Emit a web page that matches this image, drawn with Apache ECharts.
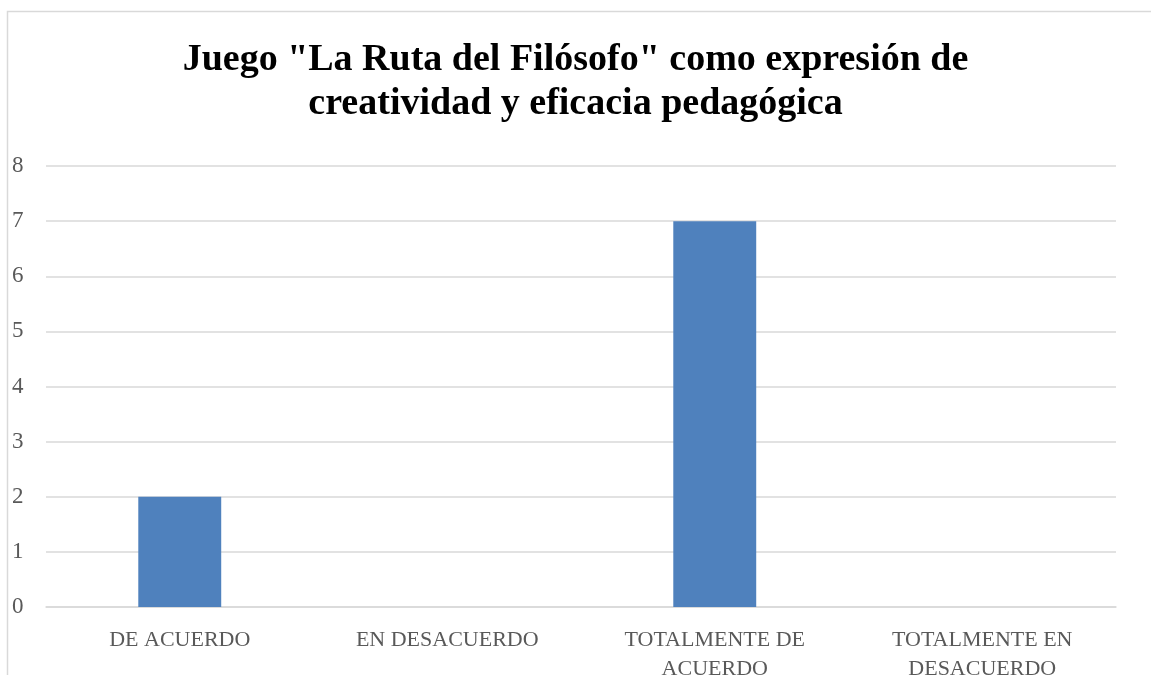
<!DOCTYPE html>
<html>
<head>
<meta charset="utf-8">
<script src="https://cdn.jsdelivr.net/npm/echarts@6/dist/echarts.min.js"></script>
<style>
  html, body { margin: 0; padding: 0; background: #fff; overflow: hidden; }
  #chart { width: 1151px; height: 675px; }
</style>
</head>
<body>
<div id="chart"></div>
<script>
// Survey answers and how many respondents chose each
const categories = ['DE ACUERDO', 'EN DESACUERDO', 'TOTALMENTE DE ACUERDO', 'TOTALMENTE EN DESACUERDO'];
const counts = [2, 0, 7, 0];
const yTicks = [0, 1, 2, 3, 4, 5, 6, 7, 8];

const titleText = 'Juego "La Ruta del Filósofo" como expresión de\ncreatividad y eficacia pedagógica';

const SERIF = '"Liberation Serif", "DejaVu Serif", serif';

// Put long labels on two lines after the second word
function wrapLabel(s) {
  const w = s.split(' ');
  if (w.length > 2) return w.slice(0, 2).join(' ') + '\n' + w.slice(2).join(' ');
  return s;
}

const chart = echarts.init(document.getElementById('chart'), null, { renderer: 'canvas' });
chart.setOption({
  backgroundColor: '#ffffff',
  animation: false,
  graphic: [{
    type: 'rect',
    shape: { x: 7.5, y: 11.5, width: 1200, height: 700 },
    style: { fill: 'none', stroke: '#d9d9d9', lineWidth: 1.5 },
    silent: true
  }],
  title: {
    text: titleText,
    left: 'center',
    top: 33,
    textStyle: {
      fontFamily: SERIF,
      fontWeight: 'bold',
      fontSize: 38,
      lineHeight: 44,
      color: '#000000'
    }
  },
  // the two-line category labels run to the bottom edge, so keep the grid fixed
  grid: { left: 46, top: 166, width: 1070, height: 441, containLabel: false, outerBoundsMode: 'none' },
  xAxis: {
    type: 'category',
    data: categories,
    axisTick: { show: false },
    axisLine: { lineStyle: { color: '#d9d9d9', width: 1.5 } },
    axisLabel: {
      interval: 0,
      margin: 19,
      color: '#595959',
      fontFamily: SERIF,
      fontSize: 22,
      lineHeight: 29,
      formatter: wrapLabel
    }
  },
  yAxis: {
    type: 'value',
    min: yTicks[0],
    max: yTicks[yTicks.length - 1],
    interval: 1,
    axisLine: { show: false },
    axisTick: { show: false },
    splitLine: { lineStyle: { color: '#d9d9d9', width: 1.5 } },
    axisLabel: {
      margin: 34,
      align: 'left',
      color: '#595959',
      fontFamily: SERIF,
      fontSize: 23,
      formatter: function (v) { return String(v); }
    }
  },
  series: [{
    type: 'bar',
    data: counts,
    barCategoryGap: '69%',
    itemStyle: { color: '#4f81bd' }
  }]
});
</script>
</body>
</html>
